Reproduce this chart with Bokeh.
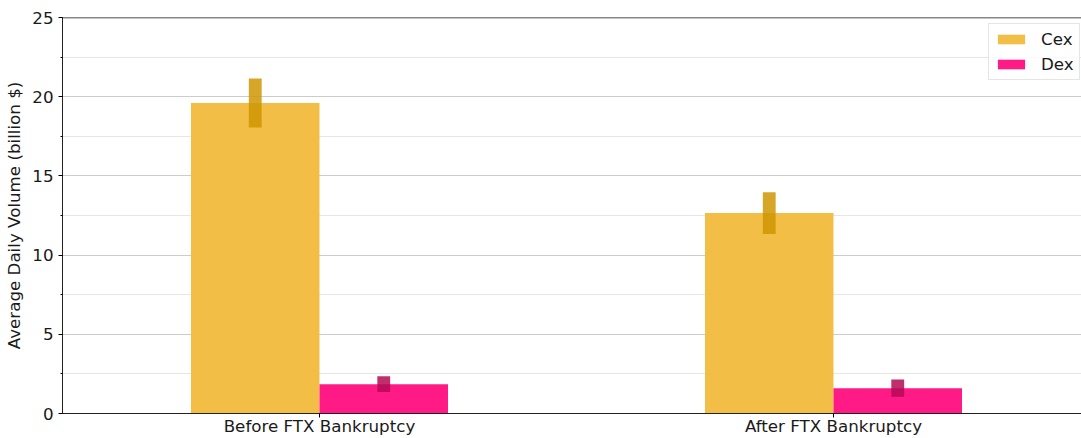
from bokeh.plotting import figure
from bokeh.models import (Range1d, FixedTicker, SingleIntervalTicker, Span,
                          Legend, LegendItem, ColumnDataSource)
from bokeh.transform import dodge
from bokeh.embed import file_html
from bokeh.resources import INLINE

# ---- data ----
periods = ["Before FTX Bankruptcy", "After FTX Bankruptcy"]
period_pos = [0, 1]
cex_volume = [19.6, 12.65]
cex_err = [1.55, 1.32]
dex_volume = [1.85, 1.6]
dex_err = [0.5, 0.54]
y_ticks_interval = 5

cex_color = "#F2BE45"
dex_color = "#FF1A85"
cex_err_color = "#CF9604"
dex_err_color = "#B40A55"
FONT = "DejaVu Sans"
FS = "16.7px"

src = ColumnDataSource(dict(
    x=period_pos,
    cex=cex_volume,
    cex_lo=[v - e for v, e in zip(cex_volume, cex_err)],
    cex_hi=[v + e for v, e in zip(cex_volume, cex_err)],
    dex=dex_volume,
    dex_lo=[v - e for v, e in zip(dex_volume, dex_err)],
    dex_hi=[v + e for v, e in zip(dex_volume, dex_err)],
))

BAR_W = 0.25
p = figure(width=1081, height=438, output_backend="svg", toolbar_location=None,
           x_range=Range1d(-0.5, 1.4825), y_range=Range1d(0, 25),
           min_border_left=62, min_border_right=0, min_border_top=17, min_border_bottom=24)
p.outline_line_color = None
p.background_fill_color = "white"

cex_r = p.vbar(x=dodge("x", -BAR_W / 2, range=p.x_range), top="cex", width=BAR_W,
               source=src, fill_color=cex_color, line_color=None)
dex_r = p.vbar(x=dodge("x", BAR_W / 2, range=p.x_range), top="dex", width=BAR_W,
               source=src, fill_color=dex_color, line_color=None)

p.vbar(x=dodge("x", -BAR_W / 2, range=p.x_range), bottom="cex_lo", top="cex_hi", width=0.025,
       source=src, fill_color=cex_err_color, fill_alpha=0.85, line_color=None)
p.vbar(x=dodge("x", BAR_W / 2, range=p.x_range), bottom="dex_lo", top="dex_hi", width=0.025,
       source=src, fill_color=dex_err_color, fill_alpha=0.85, line_color=None)

# top spine
p.add_layout(Span(location=25, dimension="width", line_color="#111111", line_width=1.5))

# axes
xa = p.xaxis[0]
xa.ticker = FixedTicker(ticks=period_pos)
xa.major_label_overrides = {i: s for i, s in zip(period_pos, periods)}
xa.minor_tick_line_color = None
xa.major_tick_out = 4
xa.major_tick_in = 0
xa.major_label_standoff = -2
xa.major_label_text_font = FONT
xa.major_label_text_font_size = FS
xa.major_label_text_color = "#1a1a1a"
xa.axis_line_color = "#222222"

ya = p.yaxis[0]
ya.ticker = SingleIntervalTicker(interval=y_ticks_interval, num_minor_ticks=2)
ya.major_tick_out = 4
ya.major_tick_in = 0
ya.minor_tick_out = 2
ya.minor_tick_in = 0
ya.major_label_standoff = 5
ya.major_label_text_font = FONT
ya.major_label_text_font_size = FS
ya.major_label_text_color = "#1a1a1a"
ya.axis_label = "Average Daily Volume (billion $)"
ya.axis_label_text_font = FONT
ya.axis_label_text_font_style = "normal"
ya.axis_label_text_font_size = FS
ya.axis_label_text_color = "#1a1a1a"
ya.axis_label_standoff = 5
ya.axis_line_color = "#222222"

p.xgrid.grid_line_color = None
p.ygrid.grid_line_color = "#cccccc"
p.ygrid.grid_line_width = 1
p.ygrid.minor_grid_line_color = "#e6e6e6"

legend = Legend(items=[LegendItem(label="Cex", renderers=[cex_r]),
                       LegendItem(label="Dex", renderers=[dex_r])],
                location=(926, 333))
legend.label_text_font = FONT
legend.label_text_font_size = FS
legend.label_text_color = "#1a1a1a"
legend.glyph_width = 34
legend.glyph_height = 12
legend.label_standoff = 13
legend.label_height = 20
legend.padding = 5
legend.spacing = 5
legend.margin = 0
legend.border_line_color = "#cccccc"
legend.background_fill_alpha = 0.8
p.add_layout(legend, "center")

open("out.html", "w").write(file_html(p, INLINE))
